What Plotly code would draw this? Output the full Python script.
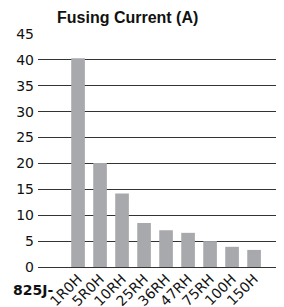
import plotly.graph_objects as go

labels = ["1R0H", "5R0H", "10RH", "25RH", "36RH", "47RH", "75RH", "100H", "150H"]
values = [40.3, 20.1, 14.2, 8.5, 7.1, 6.6, 5.0, 3.9, 3.3]
y_ticks = [0, 5, 10, 15, 20, 25, 30, 35, 40, 45]

# page body has an 8px default margin; offsets below compensate for it
OFF = 8
W, H = 284, 307
L, T, B, R = 38 - OFF, 34 - OFF, H - (267 - OFF), OFF
pw, ph = W - L - R, H - T - B

TICKFONT = "DejaVu Sans, Liberation Sans, Arial"

fig = go.Figure()
fig.add_trace(go.Bar(x=list(range(len(labels))), y=values, marker_color="#a7a9ac",
                     marker_line_width=0, width=0.62))

fig.update_layout(
    width=W, height=H,
    margin=dict(l=L, r=R, t=T, b=B, autoexpand=False),
    plot_bgcolor="white", paper_bgcolor="white",
    showlegend=False,
    font=dict(family="Liberation Sans, Arial", size=15, color="#111"),
    xaxis=dict(range=[-1.82, 9.36], tickmode="array", tickvals=list(range(len(labels))),
               ticktext=labels, tickangle=-45, showgrid=False, zeroline=False,
               showline=False, tickfont=dict(size=14, family=TICKFONT),
               automargin=False, ticklabelstandoff=0),
    yaxis=dict(range=[0, 45], tickvals=y_ticks, showgrid=True, gridcolor="#333",
               gridwidth=1, zeroline=True, zerolinecolor="#333", zerolinewidth=1,
               showline=False, ticklabelstandoff=3,
               tickfont=dict(size=14, family=TICKFONT), automargin=False),
    annotations=[
        dict(text="<b>Fusing Current (A)</b>", x=(127 - OFF - L) / pw,
             y=(H - B - (18 - OFF)) / ph,
             xref="paper", yref="paper", xanchor="center", yanchor="middle",
             showarrow=False, font=dict(size=16)),
        dict(text="<b>825J-</b>", x=(33 - OFF - L) / pw, y=-((290 - OFF) - (H - B)) / ph,
             xref="paper", yref="paper", xanchor="center", yanchor="middle",
             showarrow=False, font=dict(size=14, family=TICKFONT)),
    ],
)

fig.write_html("out.html")
